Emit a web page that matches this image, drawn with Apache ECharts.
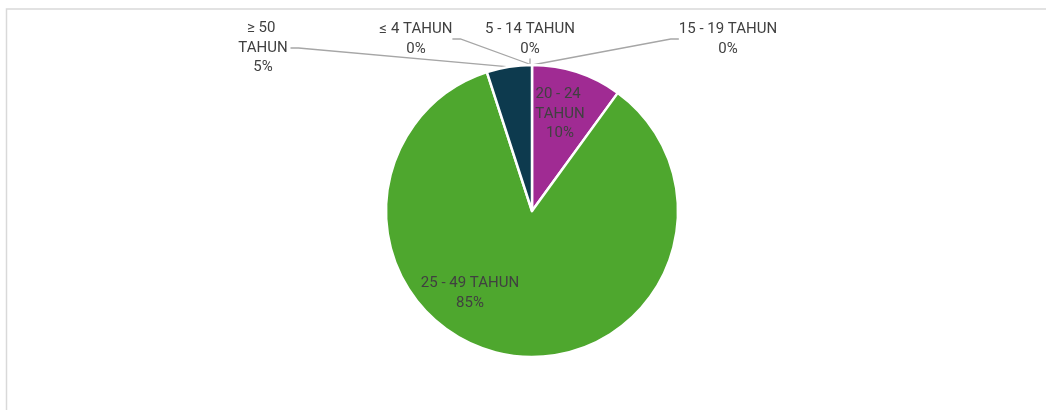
<!DOCTYPE html>
<html>
<head>
<meta charset="utf-8">
<style>
html,body{margin:0;padding:0;background:#fff;}
#chart{width:1046px;height:410px;}
</style>
<script src="https://cdn.jsdelivr.net/npm/echarts@6/dist/echarts.min.js"></script>
</head>
<body>
<div id="chart"></div>
<script>
const categories = ['≤ 4 TAHUN', '5 - 14 TAHUN', '15 - 19 TAHUN', '20 - 24 TAHUN', '25 - 49 TAHUN', '≥ 50 TAHUN'];
const values = [0, 0, 0, 10, 85, 5];
const colors = ['#156082', '#E97132', '#196B24', '#A02B93', '#4EA72E', '#0D3A4E'];
// label anchor positions (centre of label block)
const labelPos = [[416, 39], [530, 39], [728, 39], [560, 114], [470, 293], [263, 48]];
const outside = [true, true, true, false, false, true];
const wrapWidth = [null, null, null, 55, null, 55];

const chart = echarts.init(document.getElementById('chart'));
const data = categories.map((c, i) => {
  const item = {
    name: c,
    value: values[i],
    itemStyle: { color: colors[i] },
    label: { position: outside[i] ? 'outside' : 'inside' },
    labelLine: { show: outside[i] }
  };
  if (wrapWidth[i]) { item.label.width = wrapWidth[i]; item.label.overflow = 'break'; }
  return item;
});

chart.setOption({
  animation: false,
  graphic: [{
    type: 'rect',
    shape: { x: 6.5, y: 9, width: 1200, height: 600 },
    style: { fill: 'none', stroke: '#d9d9d9', lineWidth: 1.5 },
    silent: true
  }],
  series: [{
    type: 'pie',
    center: [532, 211],
    radius: 146,
    startAngle: 90,
    clockwise: true,
    avoidLabelOverlap: false,
    stillShowZeroSum: true,
    data: data,
    itemStyle: { borderColor: '#ffffff', borderWidth: 2.5 },
    label: {
      show: true,
      fontFamily: 'Roboto',
      fontSize: 15,
      color: '#404040',
      lineHeight: 19.5,
      align: 'center',
      formatter: p => p.name + '\n' + Math.round(p.percent) + '%'
    },
    labelLine: {
      show: true,
      length: 10,
      length2: 8,
      lineStyle: { color: '#a6a6a6', width: 1.3 }
    },
    labelLayout: function (p) {
      const pos = labelPos[p.dataIndex];
      return { x: pos[0], y: pos[1], align: 'center', verticalAlign: 'middle' };
    }
  }]
});
</script>
</body>
</html>
